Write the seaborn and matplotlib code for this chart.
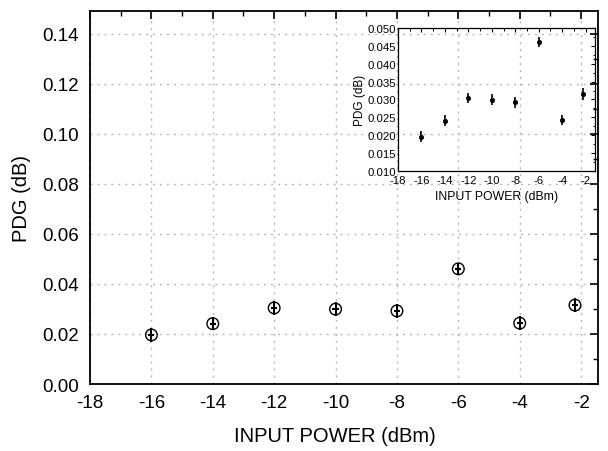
import matplotlib
matplotlib.use("Agg")
import matplotlib.pyplot as plt
import seaborn as sns
import pandas as pd
from matplotlib.ticker import MultipleLocator

sns.set_theme(style="white")
plt.rcParams['font.family'] = ['Liberation Sans', 'DejaVu Sans']
plt.rcParams['axes.unicode_minus'] = False
plt.rcParams['text.color'] = 'black'
plt.rcParams['axes.labelcolor'] = 'black'

input_power = [-16, -14, -12, -10, -8, -6, -4, -2.2]
pdg = [0.0196, 0.0241, 0.0304, 0.0299, 0.0292, 0.0460, 0.0243, 0.0315]
pdg_err = [0.0016, 0.0015, 0.0015, 0.0015, 0.0015, 0.0014, 0.0015, 0.0016]
x_err = [0.1] * len(input_power)

df = pd.DataFrame({"power": input_power, "pdg": pdg, "err": pdg_err, "xerr": x_err})

fig = plt.figure(figsize=(6.08, 4.52), dpi=100)
ax = fig.add_axes([90/608, 1 - 385/452, 508/608, 373/452])
ax.set_facecolor('white')

sns.scatterplot(data=df, x="power", y="pdg", ax=ax, marker='o', s=70,
                facecolor='none', edgecolor='black', linewidth=1.0, zorder=3)
ax.errorbar(df["power"], df["pdg"], yerr=df["err"] * 1.8, xerr=df["xerr"], fmt='none',
            ecolor='black', elinewidth=1.5, capsize=0, zorder=4)

ax.set_xlim(-18, -1.45)
ax.set_ylim(0, 0.149)
ax.xaxis.set_major_locator(MultipleLocator(2))
ax.xaxis.set_minor_locator(MultipleLocator(1))
ax.yaxis.set_major_locator(MultipleLocator(0.02))
ax.yaxis.set_minor_locator(MultipleLocator(0.01))
ax.yaxis.set_major_formatter(matplotlib.ticker.FormatStrFormatter('%.2f'))
ax.tick_params(which='both', direction='in', top=True, right=True, colors='black',
               labelsize=13.5)
ax.tick_params(which='major', length=6, width=1.2)
ax.tick_params(which='minor', length=3.5, width=1.0)
ax.tick_params(axis='x', pad=7)
ax.tick_params(axis='y', pad=8)
for s in ax.spines.values():
    s.set_color('black')
    s.set_linewidth(1.3)
ax.grid(True, which='major', linestyle=(0, (1.5, 3.5)), color='#b8b8b8', linewidth=1.0)
ax.set_axisbelow(True)
ax.set_xlabel("INPUT POWER (dBm)", fontsize=14.5)
ax.xaxis.set_label_coords(0.482, -0.112)
ax.set_ylabel("PDG (dB)", fontsize=14.5, labelpad=8)

# inset
ins = fig.add_axes([398/608, 1 - 172/452, 197/608, 143/452])
ins.patch.set_alpha(0.0)
sns.scatterplot(data=df, x="power", y="pdg", ax=ins, marker='o', s=10,
                color='black', edgecolor='black', linewidth=0.5, zorder=3)
ins.errorbar(df["power"], df["pdg"], yerr=df["err"], fmt='none',
             ecolor='black', elinewidth=1.2, capsize=0, zorder=4)
ins.set_xlim(-18, -1.2)
ins.set_ylim(0.010, 0.050)
ins.xaxis.set_major_locator(MultipleLocator(2))
ins.xaxis.set_minor_locator(MultipleLocator(1))
ins.yaxis.set_major_locator(MultipleLocator(0.005))
ins.yaxis.set_minor_locator(MultipleLocator(0.0025))
ins.yaxis.set_major_formatter(matplotlib.ticker.FormatStrFormatter('%.3f'))
ins.tick_params(which='both', direction='in', top=True, right=True, colors='black',
                labelsize=8.2, pad=1.5)
ins.tick_params(axis='x', pad=3.2)
ins.tick_params(which='major', length=3, width=0.8)
ins.tick_params(which='minor', length=1.8, width=0.7)
for s in ins.spines.values():
    s.set_color('black')
    s.set_linewidth(0.9)
ins.grid(False)
ins.set_xlabel("INPUT POWER (dBm)", fontsize=8.8, labelpad=3)
ins.set_ylabel("PDG (dB)", fontsize=8.5, labelpad=1)

fig.savefig("out.png", dpi=100)
